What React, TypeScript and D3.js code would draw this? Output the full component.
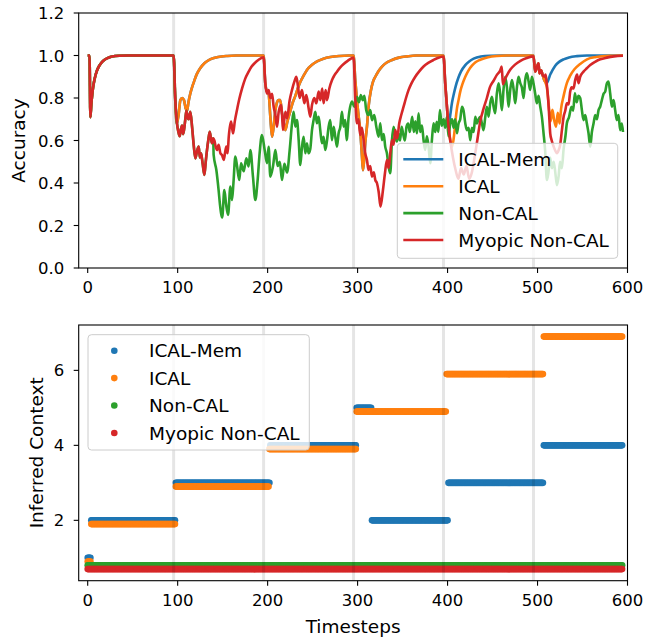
import React from "react";
import * as d3 from "d3";

type P = [number, number];

// ---------- data ----------
const seriesNames = ["ICAL-Mem", "ICAL", "Non-CAL", "Myopic Non-CAL"];
const seriesColors = ["#1f77b4", "#ff7f0e", "#2ca02c", "#d62728"];
const contextSwitches = [95.5, 195.5, 295.5, 395.5, 495.5];
const xTicks = [0, 100, 200, 300, 400, 500, 600];
const accTicks = [0, 0.2, 0.4, 0.6, 0.8, 1.0, 1.2];
const ctxTicks = [2, 4, 6];

// accuracy shared by all agents during the first context
const accStart: P[] = [
  [0, 1], [1, 1], [2, 1], [3, 0.71], [4, 0.77], [5, 0.815], [6, 0.85], [7, 0.875], [8, 0.895],
  [10, 0.925], [12, 0.945], [15, 0.965], [18, 0.978], [22, 0.988], [27, 0.995], [35, 0.999], [45, 1], [95, 1],
];

// ICAL and ICAL-Mem coincide in contexts 2-4
const icalMid: P[] = [
  [95.5, 1], [97, 0.82], [99, 0.68], [101, 0.72], [103, 0.79], [105, 0.8], [107, 0.79], [109, 0.75], [110.5, 0.74],
  [112, 0.78], [114, 0.82], [116, 0.85], [118, 0.875], [121, 0.91], [125, 0.94], [130, 0.965], [136, 0.982],
  [145, 0.993], [155, 0.998], [165, 1], [195.5, 1],
  [197.4, 0.869], [199.3, 0.83], [201.1, 0.82], [203, 0.712], [204.9, 0.618], [206.5, 0.66], [208.6, 0.743],
  [210.5, 0.78], [212, 0.79], [214, 0.79], [216, 0.728], [218, 0.68], [219.7, 0.649], [222, 0.69], [225, 0.735],
  [228, 0.78], [230.8, 0.81], [233.5, 0.845], [236.3, 0.875], [240, 0.905], [243.7, 0.932], [249, 0.955],
  [254.9, 0.972], [262, 0.985], [269.7, 0.993], [280, 0.998], [290, 1], [295.5, 1],
  [297.4, 0.885], [299.3, 0.79], [301, 0.72], [302.9, 0.649], [304.8, 0.53], [306, 0.46], [307.5, 0.52],
  [308.5, 0.587], [310.4, 0.665], [312.2, 0.759], [314.9, 0.838], [317, 0.875], [319.7, 0.9], [323, 0.925],
  [327.1, 0.948], [332, 0.966], [338.2, 0.979], [346, 0.99], [355, 0.996], [365, 1], [395.5, 1],
];

const icalEnd: P[] = [
  [397.4, 0.869], [399.3, 0.759], [401.1, 0.665], [403, 0.6], [405, 0.57], [407.4, 0.63], [409, 0.7], [410.4, 0.75],
  [412.2, 0.79], [414.1, 0.83], [416.5, 0.865], [419.7, 0.9], [423, 0.928], [427.1, 0.952], [431, 0.968],
  [436.3, 0.98], [445, 0.992], [455, 0.998], [465, 1], [495.5, 1],
  [497.4, 0.924], [499, 0.94], [501.1, 0.963], [502.2, 0.916], [504, 0.93], [505.5, 0.91], [507.4, 0.885],
  [509, 0.87], [510.4, 0.85], [511.9, 0.79], [513, 0.74], [514.5, 0.69], [516.5, 0.745], [518.3, 0.7],
  [520.5, 0.665], [522.5, 0.73], [524.5, 0.68], [526.2, 0.75], [529, 0.81], [532.6, 0.87], [536.3, 0.905],
  [541, 0.935], [547.4, 0.96], [555, 0.982], [565, 0.993], [580, 0.999], [595, 1],
];

const icalMemEnd: P[] = [
  [397.4, 0.869], [399.3, 0.759], [401.1, 0.665], [403, 0.72], [405, 0.78], [407, 0.82], [409, 0.855],
  [412, 0.895], [415, 0.925], [419.7, 0.955], [424, 0.972], [429, 0.985], [437, 0.995], [447, 0.999],
  [460, 1], [495.5, 1],
  [497.4, 0.924], [499, 0.94], [501.1, 0.963], [502.2, 0.916], [504, 0.93], [505.5, 0.91], [507.4, 0.885],
  [509, 0.875], [510.4, 0.87], [512, 0.885], [514.1, 0.91], [516.5, 0.93], [519.7, 0.952], [524, 0.97],
  [529, 0.982], [535, 0.991], [543.8, 0.997], [555, 1], [595, 1],
];

const myopicRest: P[] = [
  [95.5, 1], [97.4, 0.79], [99.3, 0.68], [100.8, 0.64], [102.2, 0.62], [103.5, 0.65], [104.9, 0.67], [106, 0.63],
  [107.1, 0.65], [108.5, 0.7], [109.7, 0.74], [111, 0.71], [112.3, 0.7], [114.1, 0.735], [116, 0.665],
  [117.8, 0.58], [119.7, 0.516], [121.5, 0.55], [123.4, 0.571], [124.7, 0.52], [126, 0.54], [127.8, 0.49],
  [129.7, 0.438], [131.2, 0.5], [132.6, 0.555], [134, 0.6], [135.6, 0.641], [137, 0.61], [138.2, 0.587],
  [139.5, 0.61], [140.8, 0.6], [142.3, 0.57], [143.8, 0.555], [145.5, 0.58], [147.5, 0.54], [149.5, 0.53],
  [151.2, 0.508], [152.6, 0.54], [154.1, 0.572], [155.5, 0.54], [156.8, 0.618], [159.3, 0.689], [160.5, 0.66],
  [161.6, 0.634], [163.5, 0.69], [166, 0.745], [168.5, 0.795], [171.6, 0.845], [175, 0.89], [178.9, 0.924],
  [182, 0.947], [186.3, 0.967], [190, 0.98], [195.5, 0.992],
  [197.4, 0.869], [199.3, 0.82], [201.1, 0.838], [203, 0.8], [204.9, 0.82], [206.7, 0.759], [208.6, 0.72],
  [210.4, 0.665], [212.3, 0.735], [214.9, 0.767], [216, 0.72], [217.1, 0.65], [219.7, 0.735], [221.6, 0.704],
  [224.5, 0.79], [227.1, 0.838], [229.7, 0.877], [231.9, 0.9], [233.8, 0.853], [235.6, 0.8], [238.2, 0.838],
  [240.8, 0.775], [243, 0.814], [245.6, 0.751], [247.4, 0.712], [249.3, 0.767], [251.9, 0.8], [254.1, 0.775],
  [256.7, 0.83], [258.5, 0.79], [260.7, 0.845], [262.2, 0.775], [264.5, 0.838], [266, 0.79], [268.6, 0.845],
  [271.6, 0.885], [274, 0.905], [277.1, 0.924], [280.5, 0.943], [284.5, 0.96], [289, 0.975], [295.5, 0.99],
  [297.4, 0.8], [299.3, 0.681], [301, 0.7], [302.9, 0.626], [304.8, 0.66], [306.7, 0.602], [308.5, 0.54],
  [310.4, 0.508], [312.2, 0.461], [314, 0.48], [316, 0.43], [318, 0.45], [319.7, 0.414], [321.5, 0.4],
  [323.4, 0.359], [325.5, 0.289], [328.2, 0.367], [330.4, 0.446], [332.6, 0.508], [334.5, 0.47], [336.3, 0.54],
  [338.2, 0.602], [340, 0.58], [341.9, 0.649], [344, 0.61], [346.3, 0.681], [348.5, 0.72], [351.1, 0.759],
  [353.8, 0.8], [356.7, 0.838], [360, 0.87], [364.1, 0.9], [368.5, 0.925], [373.3, 0.948], [378.5, 0.965],
  [384.4, 0.979], [389, 0.988], [395.5, 0.995],
  [397.4, 0.869], [399.3, 0.759], [401.1, 0.665], [403, 0.6], [406, 0.52], [409, 0.46], [412, 0.42], [415, 0.47],
  [418, 0.44], [421, 0.48], [424, 0.42], [427, 0.45], [430, 0.52], [433, 0.6], [436.3, 0.69], [440, 0.75],
  [443.7, 0.8], [447, 0.85], [451, 0.88], [455, 0.91], [458.6, 0.93], [460.2, 0.948], [461.5, 0.865], [464, 0.89],
  [467, 0.915], [470, 0.935], [475, 0.957], [481, 0.975], [488, 0.988], [495.5, 0.996],
  [497.4, 0.924], [499, 0.94], [501.1, 0.963], [502.2, 0.916], [504, 0.93], [505.5, 0.91], [507.4, 0.9],
  [509, 0.91], [510.4, 0.861], [511.9, 0.79], [513, 0.712], [514.1, 0.634], [515.6, 0.602], [518, 0.57],
  [520, 0.55], [521.6, 0.54], [523.5, 0.555], [525.2, 0.58], [527.1, 0.649], [529, 0.712], [530.8, 0.74],
  [532.6, 0.775], [534.5, 0.77], [536.3, 0.83], [538, 0.85], [540, 0.845], [541.9, 0.885], [544, 0.91],
  [545.5, 0.87], [547.4, 0.9], [551.1, 0.924], [554.8, 0.94], [558.6, 0.955], [564, 0.97], [569.7, 0.982],
  [577, 0.99], [585, 0.996], [595, 0.999],
];

const nonCalRest: P[] = [
  [140, 0.532], [143, 0.461], [145.5, 0.367], [147, 0.3], [149.5, 0.238], [151.9, 0.367], [153.7, 0.304],
  [156, 0.25], [158.6, 0.383], [160.4, 0.32], [162, 0.4], [164.1, 0.524], [166, 0.48], [168.5, 0.414],
  [170.4, 0.493], [173.4, 0.455], [176.3, 0.516], [178.9, 0.478], [180.8, 0.555], [183.7, 0.43], [186.3, 0.32],
  [188.9, 0.414], [191.1, 0.54], [193.7, 0.626], [196.7, 0.555], [199.3, 0.493], [201.1, 0.57], [203, 0.43],
  [206, 0.48], [208.6, 0.555], [211.1, 0.48], [213.5, 0.5], [216, 0.414], [218.6, 0.49], [221.6, 0.45],
  [224.5, 0.555], [227.1, 0.681], [228.9, 0.735], [230.8, 0.665], [232.6, 0.696], [234.5, 0.602], [236.3, 0.485],
  [238.2, 0.57], [240, 0.618], [241.9, 0.54], [243.7, 0.587], [245.5, 0.54], [247.4, 0.56], [249.3, 0.649],
  [251.1, 0.696], [253, 0.735], [254.8, 0.681], [256.7, 0.712], [258.5, 0.649], [260.4, 0.587], [262.2, 0.618],
  [264.1, 0.555], [266, 0.6], [267.8, 0.665], [269.6, 0.696], [271.5, 0.602], [273.4, 0.665], [275.2, 0.618],
  [277.1, 0.571], [278.9, 0.634], [280.8, 0.665], [282.6, 0.735], [284.5, 0.665], [286.3, 0.696], [287.8, 0.602],
  [290.1, 0.712], [293.8, 0.783], [296.3, 0.759], [299.3, 0.806], [301.5, 0.78], [303.6, 0.814], [305.8, 0.79],
  [307.5, 0.81], [309.6, 0.743], [312, 0.72], [314.1, 0.743], [316, 0.696], [318.5, 0.72], [320.8, 0.665],
  [323.4, 0.618], [325.2, 0.681], [327.1, 0.602], [329, 0.63], [330.7, 0.571], [332.6, 0.54], [334.5, 0.477],
  [336.3, 0.446], [338.2, 0.602], [340, 0.665], [341.8, 0.62], [343.7, 0.595], [345.5, 0.63], [347.2, 0.6],
  [348.9, 0.665], [350.7, 0.63], [352.5, 0.6], [354.4, 0.665], [356.2, 0.68], [358, 0.64], [360.7, 0.712],
  [362.5, 0.64], [364.2, 0.69], [366, 0.634], [367.8, 0.728], [369.6, 0.64], [371.5, 0.67], [373.3, 0.602],
  [375.1, 0.555], [377, 0.62], [378.9, 0.571], [380.8, 0.493], [382.6, 0.602], [384.4, 0.681], [386.3, 0.64],
  [388, 0.688], [389.8, 0.64], [391.5, 0.743], [393.5, 0.67], [395.6, 0.7], [397.4, 0.66], [399.3, 0.712],
  [401, 0.62], [403, 0.681], [405, 0.7], [406.7, 0.66], [408.5, 0.7], [410.4, 0.634], [412.2, 0.68], [414.1, 0.7],
  [416, 0.759], [417.8, 0.74], [419.7, 0.68], [421.5, 0.649], [423.4, 0.66], [425.2, 0.602], [427.1, 0.66],
  [429, 0.64], [430.8, 0.712], [432.6, 0.68], [434.5, 0.7], [436.3, 0.712], [438.2, 0.68], [440, 0.649],
  [441.9, 0.71], [443.7, 0.759], [445.6, 0.712], [447.4, 0.775], [449.3, 0.806], [451.1, 0.76], [452.9, 0.728],
  [454.8, 0.822], [456.7, 0.869], [458.5, 0.82], [460.4, 0.743], [462.2, 0.84], [464.1, 0.9], [466, 0.85],
  [467.8, 0.759], [469.7, 0.84], [471.6, 0.885], [473.4, 0.84], [475.2, 0.775], [477.1, 0.85], [478.9, 0.9],
  [480.8, 0.87], [482.6, 0.85], [484.5, 0.8], [486.3, 0.885], [488.1, 0.916], [490, 0.88], [491.8, 0.838],
  [493.7, 0.9], [495.5, 0.869], [497.4, 0.82], [499.3, 0.775], [501.1, 0.81], [503, 0.76], [504.8, 0.712],
  [506.7, 0.634], [508.5, 0.55], [510.4, 0.414], [512, 0.446], [514, 0.52], [516, 0.47], [518, 0.5], [520, 0.44],
  [521.6, 0.39], [523.4, 0.43], [525, 0.5], [527, 0.47], [529, 0.56], [531, 0.62], [532.6, 0.681], [535, 0.71],
  [537.7, 0.759], [539.6, 0.74], [541.5, 0.822], [543.5, 0.78], [545.5, 0.81], [547.4, 0.8], [549.3, 0.743],
  [551.1, 0.696], [553, 0.72], [554.8, 0.681], [556.7, 0.634], [558.6, 0.571], [560.4, 0.64], [562.3, 0.681],
  [564.1, 0.72], [566, 0.7], [567.8, 0.743], [569.7, 0.76], [571.5, 0.79], [573.4, 0.82], [575.2, 0.83],
  [577.1, 0.869], [578.9, 0.877], [580.8, 0.82], [582.6, 0.759], [584.5, 0.79], [586.3, 0.743], [588.1, 0.696],
  [590, 0.72], [591.9, 0.649], [593.7, 0.68], [595, 0.64],
];

const icalMemAcc: P[] = [...accStart, ...icalMid, ...icalMemEnd];
const icalAcc: P[] = [...accStart, ...icalMid, ...icalEnd];
const nonCalAcc: P[] = [...accStart, ...myopicRest.filter((d) => d[0] < 139.6), ...nonCalRest];
const myopicAcc: P[] = [...accStart, ...myopicRest];
const accSeries = [icalMemAcc, icalAcc, nonCalAcc, myopicAcc];

// inferred context: runs of [firstStep, lastStep, context]
const icalMemRuns = [[0, 3, 1], [4, 97, 2], [98, 202, 3], [203, 298, 4], [299, 315, 5], [316, 400, 2], [401, 506, 3], [507, 594, 4]];
const icalRuns = [[0, 3, 1], [4, 97, 2], [98, 201, 3], [202, 298, 4], [299, 398, 5], [399, 506, 6], [507, 594, 7]];
const nonCalRuns = [[0, 594, 1]];
const myopicRuns = [[0, 594, 1]];
const ctxRuns = [icalMemRuns, icalRuns, nonCalRuns, myopicRuns];
const ctxOffsets = [0, -0.1, -0.2, -0.3];

// ---------- layout ----------
const W = 659, H = 639;
const FONT = "DejaVu Sans, Verdana, sans-serif";
const TICK_FS = 16.5;
const LABEL_FS = 18.5;
const L = 78.7, R = 627.5;
const topY0 = 13, topY1 = 268;
const botY0 = 325, botY1 = 580.7;

export default function App() {
  const x = d3.scaleLinear().domain([-10, 600]).range([L, R]);
  const yA = d3.scaleLinear().domain([0, 1.2]).range([topY1, topY0]);
  const yC = d3.scaleLinear().domain([0.39, 7.21]).range([botY1, botY0]);
  const line = d3.line<P>().x((d) => x(d[0])).y((d) => yA(d[1])).curve(d3.curveMonotoneX);

  const ctxPoints = ctxRuns.map((runs, i) => {
    const pts: { t: number; v: number }[] = [];
    runs.forEach(([a, b, c]) => {
      for (let t = a; t <= b; t++) pts.push({ t, v: c + ctxOffsets[i] });
    });
    return pts;
  });

  const xAxis = (yBase: number) => (
    <g>
      {xTicks.map((t) => (
        <g key={t}>
          <line x1={x(t)} x2={x(t)} y1={yBase} y2={yBase + 5} stroke="#000" strokeWidth={1.1} />
          <text x={x(t)} y={yBase + 25} textAnchor="middle" fontSize={TICK_FS} fontFamily={FONT}>{t}</text>
        </g>
      ))}
    </g>
  );

  const yAxis = (ticks: number[], sc: (v: number) => number, fmt: (v: number) => string) => (
    <g>
      {ticks.map((t) => (
        <g key={t}>
          <line x1={L - 5} x2={L} y1={sc(t)} y2={sc(t)} stroke="#000" strokeWidth={1.1} />
          <text x={L - 14.5} y={sc(t) + 0.365 * TICK_FS} textAnchor="end" fontSize={TICK_FS} fontFamily={FONT}>{fmt(t)}</text>
        </g>
      ))}
    </g>
  );

  const vlines = (y0: number, y1: number) =>
    contextSwitches.map((s) => (
      <line key={s} x1={x(s)} x2={x(s)} y1={y0} y2={y1} stroke="#000" strokeOpacity={0.1} strokeWidth={3} />
    ));

  const topLegendRows = [159.3, 186.2, 213.1, 240];
  const botLegendRows = [350.7, 378.1, 405.5, 433];

  return (
    <svg width={W} height={H} style={{ position: "absolute", left: 0, top: 0, background: "#fff" }}>
      <rect x={0} y={0} width={W} height={H} fill="#fff" />
      {/* ---------- top panel ---------- */}
      <g>{vlines(topY0, topY1)}</g>
      <g>
        {accSeries.map((s, i) => (
          <path key={i} d={line(s) || ""} fill="none" stroke={seriesColors[i]} strokeWidth={2.6} strokeLinejoin="round" />
        ))}
      </g>
      <rect x={L} y={topY0} width={R - L} height={topY1 - topY0} fill="none" stroke="#000" strokeWidth={1.1} />
      {xAxis(topY1)}
      {yAxis(accTicks, yA, d3.format(".1f"))}
      <text transform={`translate(${18 + 0.365 * LABEL_FS},${(topY0 + topY1) / 2}) rotate(-90)`} textAnchor="middle" fontSize={LABEL_FS} fontFamily={FONT}>Accuracy</text>
      <g>
        <rect x={397.3} y={143.3} width={220.4} height={115} rx={3.5} fill="#fff" fillOpacity={0.8} stroke="#cccccc" strokeWidth={1} />
        {seriesNames.map((n, i) => (
          <g key={n}>
            <line x1={403.3} x2={443.3} y1={topLegendRows[i]} y2={topLegendRows[i]} stroke={seriesColors[i]} strokeWidth={2.6} />
            <text x={458.3} y={topLegendRows[i] + 0.365 * LABEL_FS} fontSize={LABEL_FS} fontFamily={FONT}>{n}</text>
          </g>
        ))}
      </g>

      {/* ---------- bottom panel ---------- */}
      <g>
        {ctxPoints.map((pts, i) => (
          <g key={i} fill={seriesColors[i]}>
            {pts.map((p) => (
              <circle key={p.t} cx={x(p.t)} cy={yC(p.v)} r={3.3} />
            ))}
          </g>
        ))}
      </g>
      <g>{vlines(botY0, botY1)}</g>
      <rect x={L} y={botY0} width={R - L} height={botY1 - botY0} fill="none" stroke="#000" strokeWidth={1.1} />
      {xAxis(botY1)}
      {yAxis(ctxTicks, yC, d3.format("d"))}
      <text transform={`translate(${36.7 + 0.365 * LABEL_FS},${(botY0 + botY1) / 2}) rotate(-90)`} textAnchor="middle" fontSize={LABEL_FS} fontFamily={FONT}>Inferred Context</text>
      <text x={(L + R) / 2} y={633} textAnchor="middle" fontSize={LABEL_FS} fontFamily={FONT}>Timesteps</text>
      <g>
        <rect x={88} y={334.7} width={221.3} height={115.3} rx={3.5} fill="#fff" fillOpacity={0.8} stroke="#cccccc" strokeWidth={1} />
        {seriesNames.map((n, i) => (
          <g key={n}>
            <circle cx={114.3} cy={botLegendRows[i]} r={3.3} fill={seriesColors[i]} />
            <text x={149} y={botLegendRows[i] + 0.365 * LABEL_FS} fontSize={LABEL_FS} fontFamily={FONT}>{n}</text>
          </g>
        ))}
      </g>
    </svg>
  );
}
